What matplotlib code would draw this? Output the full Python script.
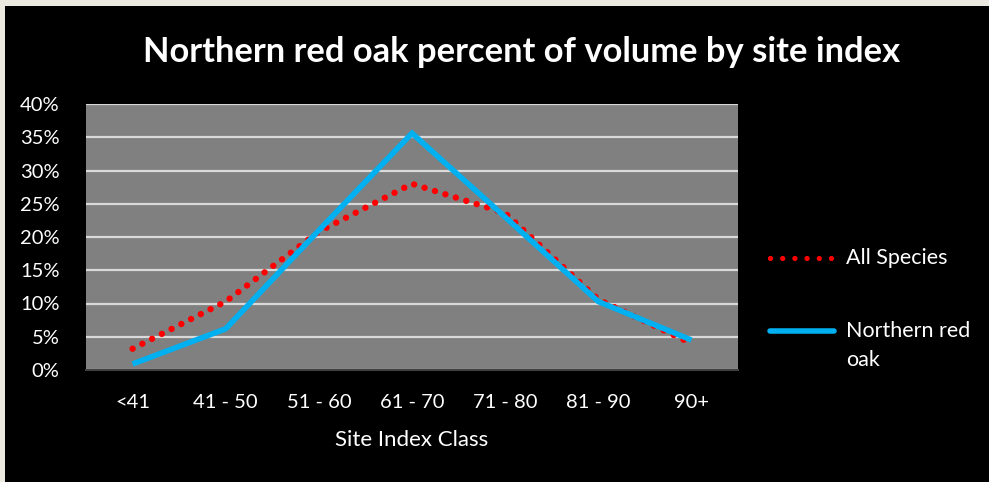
import matplotlib.pyplot as plt
from matplotlib.lines import Line2D
from matplotlib.patches import Rectangle
from matplotlib.ticker import FuncFormatter, MultipleLocator

plt.rcParams["font.family"] = ["Lato", "DejaVu Sans"]

# site index classes and percent of volume
classes = ["<41", "41 - 50", "51 - 60", "61 - 70", "71 - 80", "81 - 90", "90+"]
all_species = [3.2, 10.3, 20.8, 28.0, 23.6, 10.6, 4.0]
red_oak = [0.9, 6.2, 21.0, 35.6, 23.0, 10.3, 4.5]

W, H = 989, 482
fig = plt.figure(figsize=(W / 100, H / 100), dpi=100)
fig.patch.set_facecolor("#ECE9E0")
fig.patches.append(Rectangle((5 / W, 0), 1 - 5 / W, (H - 6) / H,
                             transform=fig.transFigure, facecolor="black",
                             edgecolor="none", zorder=-10))

ax = fig.add_axes([86 / W, 1 - 370 / H, (738 - 86) / W, (370 - 104) / H])
ax.set_facecolor("#808080")
x = range(len(classes))

ax.plot(x, all_species, color="#FF0000", lw=4.6, linestyle=(0, (0.01, 1.7)),
        dash_capstyle="round", zorder=3)
ax.plot(x, red_oak, color="#00B0F0", lw=4.0, solid_capstyle="butt",
        solid_joinstyle="miter", zorder=4)

ax.set_xlim(-0.5, len(classes) - 0.5)
ax.set_ylim(0, 40)
ax.yaxis.set_major_locator(MultipleLocator(5))
ax.yaxis.set_major_formatter(FuncFormatter(lambda v, _: f"{v:.0f}%"))
ax.set_xticks(list(x))
ax.set_xticklabels(classes)
ax.grid(axis="y", color="#D9D9D9", lw=1.6, zorder=1)
ax.set_axisbelow(True)
for s in ["top", "right", "left"]:
    ax.spines[s].set_visible(False)
ax.spines["bottom"].set_color("#404040")
ax.spines["bottom"].set_linewidth(1.5)
ax.tick_params(axis="both", length=0, colors="white", labelsize=14.5)
ax.tick_params(axis="y", pad=19)
ax.tick_params(axis="x", pad=17)
ax.set_xlabel("Site Index Class", color="white", fontsize=16, labelpad=14)

fig.text(522 / W, 1 - 52 / H, "Northern red oak percent of volume by site index",
         color="white", fontsize=24.8, fontweight="bold", ha="center", va="center")

# legend drawn by hand so the handle lines up with the first text line
fig.add_artist(Line2D([770 / W, 834 / W], [1 - 258 / H] * 2, transform=fig.transFigure,
                      color="#FF0000", lw=3.8, linestyle=(0, (0.01, 2.3)),
                      dash_capstyle="round"))
fig.text(846 / W, 1 - 258 / H, "All Species", color="white", fontsize=15.5,
         va="center", ha="left")
fig.add_artist(Line2D([770 / W, 834 / W], [1 - 331 / H] * 2, transform=fig.transFigure,
                      color="#00B0F0", lw=4.0, solid_capstyle="round"))
fig.text(846 / W, 1 - 331 / H, "Northern red", color="white", fontsize=15.5,
         va="center", ha="left")
fig.text(846 / W, 1 - 360 / H, "oak", color="white", fontsize=15.5,
         va="center", ha="left")

fig.savefig("out.png", dpi=100, facecolor=fig.get_facecolor())
